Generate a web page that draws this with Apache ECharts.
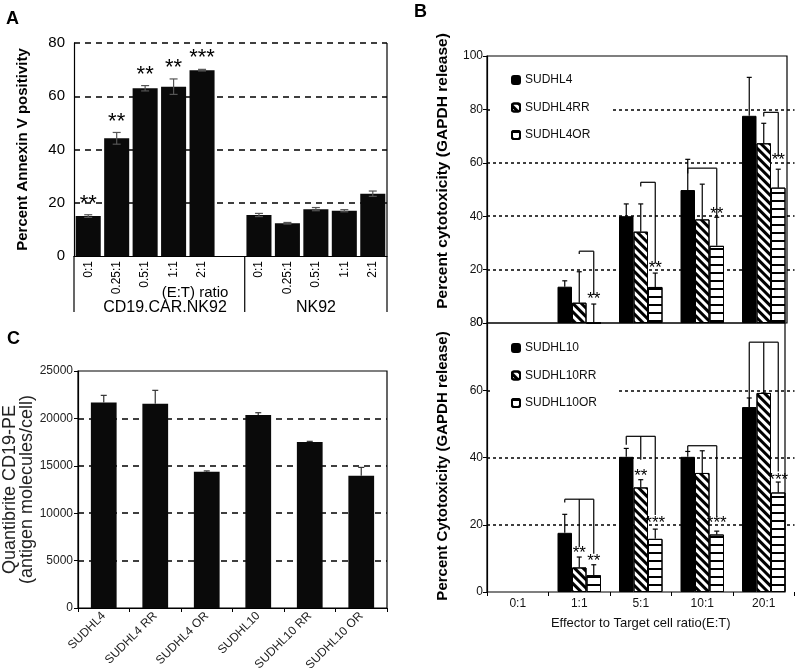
<!DOCTYPE html>
<html>
<head>
<meta charset="utf-8">
<script src="https://cdn.jsdelivr.net/npm/echarts@6/dist/echarts.min.js"></script>
<style>
  html, body { margin: 0; background: #fff; }
  #chart { width: 800px; height: 668px; }
</style>
</head>
<body>
<div id="chart"></div>
<script>
// ---- Panel A: Annexin V ----
const ratiosA = ['0:1', '0.25:1', '0.5:1', '1:1', '2:1', '', '0:1', '0.25:1', '0.5:1', '1:1', '2:1']
const annexin = [15.0, 44.2, 63.0, 63.6, 69.8, null, 15.4, 12.3, 17.6, 17.0, 23.4]
const annexinErr = [0.5, 2.2, 1.0, 2.9, 0.3, null, 0.6, 0.3, 0.6, 0.4, 1.0]
const annexinSig = ['**', '**', '**', '**', '***', '', '', '', '', '', '']

// ---- Panel B: GAPDH release ----
const ratiosB = ['0:1', '1:1', '5:1', '10:1', '20:1']
const sudhl4 = [null, 13.6, 40.0, 49.8, 77.6]
const sudhl4Err = [null, 2.2, 4.6, 11.5, 14.4]
const sudhl4RR = [null, 7.6, 34.2, 38.8, 67.3]
const sudhl4RRErr = [null, 11.6, 10.4, 13.2, 7.5]
const sudhl4OR = [null, 0, 13.5, 28.9, 50.7]
const sudhl4ORErr = [null, 7.1, 5.2, 10.7, 6.9]

const sudhl10 = [null, 17.6, 40.2, 40.2, 55.0]
const sudhl10Err = [null, 5.5, 2.5, 1.6, 2.7]
const sudhl10RR = [null, 7.3, 31.1, 35.4, 59.2]
const sudhl10RRErr = [null, 3.1, 2.3, 6.6, 0]
const sudhl10OR = [null, 5.0, 15.8, 17.1, 29.6]
const sudhl10ORErr = [null, 3.1, 2.9, 1.0, 3.1]

// significance brackets: [category, top, bar, legEnd, bar, legEnd, bar, legEnd] (bar -1 = none)
const bracketsB4 = [
  [1, 26.9, 1, 25.8, 2, 10.5, -1, 0],
  [2, 52.7, 1, 51.1, 2, 22.4, -1, 0],
  [3, 58.0, 0, 56.0, 2, 39.9, -1, 0],
  [4, 78.9, 1, 77.3, 2, 62.3, -1, 0]
]
const bracketsB10 = [
  [1, 27.6, 0, 26.6, 1, 13.4, 2, 11.4],
  [2, 46.3, 0, 43.8, 1, 39.3, 2, 22.9],
  [3, 43.5, 0, 41.8, 2, 22.4, -1, 0],
  [4, 74.3, 0, 55.0, 1, 59.2, 2, 35.8]
]
// stars: [category, bar, height]
const starsB4 = [[1, 2, 10.0], [2, 2, 21.8], [3, 2, 42.1], [4, 2, 62.3]]
const starsB4Text = ['**', '**', '**', '**']
const starsB10 = [[1, 1, 12.4], [1, 2, 10.0], [2, 1, 35.3], [2, 2, 21.4], [3, 2, 21.4], [4, 2, 34.3]]
const starsB10Text = ['**', '**', '**', '***', '***', '***']

// ---- Panel C: CD19 antigen density ----
const cellLines = ['SUDHL4', 'SUDHL4 RR', 'SUDHL4 OR', 'SUDHL10', 'SUDHL10 RR', 'SUDHL10 OR']
const cd19 = [21690, 21550, 14360, 20350, 17500, 13940]
const cd19Err = [740, 1410, 100, 250, 80, 890]

const FONT = '"Liberation Sans", Arial, sans-serif'
const BW = 14.5 // bar width in panel B

const gA = { left: 74, top: 43, width: 313, height: 213 }
const gB1 = { left: 487, top: 56, width: 307.5, height: 267 }
const gB2 = { left: 487, top: 323, width: 307.5, height: 269 }
const gC = { left: 78, top: 371, width: 309, height: 237 }

const solid = { color: '#000', borderColor: '#000', borderWidth: 1 }
const diag = {
  color: '#fff', borderColor: '#000', borderWidth: 1,
  decal: { symbol: 'rect', symbolSize: 1, color: '#000', dashArrayX: [1, 0], dashArrayY: [2.5, 2.5], rotation: Math.PI / 4 }
}
const horiz = {
  color: '#fff', borderColor: '#000', borderWidth: 1,
  decal: { symbol: 'rect', symbolSize: 1, color: '#000', dashArrayX: [1, 0], dashArrayY: [2, 5.5], rotation: 0 }
}

function errData(vals, errs) {
  const out = []
  vals.forEach((v, i) => { if (v != null && errs[i] != null) out.push([i, v, errs[i]]) })
  return out
}

function errorBars(offset, cap, color, both) {
  return function (params, api) {
    const cat = api.value(0), val = api.value(1), err = api.value(2)
    const x = api.coord([cat, val])[0] + offset
    const yTop = api.coord([cat, val + err])[1]
    const yBot = api.coord([cat, both ? val - err : val])[1]
    const style = { stroke: color, lineWidth: 1.2 }
    const kids = [
      { type: 'line', shape: { x1: x, y1: yBot, x2: x, y2: yTop }, style },
      { type: 'line', shape: { x1: x - cap / 2, y1: yTop, x2: x + cap / 2, y2: yTop }, style }
    ]
    if (both) kids.push({ type: 'line', shape: { x1: x - cap / 2, y1: yBot, x2: x + cap / 2, y2: yBot }, style })
    return { type: 'group', children: kids }
  }
}

function bracketItem(params, api) {
  const cat = api.value(0)
  const yTop = api.coord([cat, api.value(1)])[1]
  const cx = api.coord([cat, 0])[0]
  const legs = []
  for (let k = 2; k < 8; k += 2) {
    const b = api.value(k)
    if (b >= 0) legs.push([cx + (b - 1) * BW, api.coord([cat, api.value(k + 1)])[1]])
  }
  const style = { stroke: '#000', lineWidth: 1.2 }
  const xs = legs.map(l => l[0])
  const kids = [{ type: 'line', shape: { x1: Math.min(...xs), y1: yTop, x2: Math.max(...xs), y2: yTop }, style }]
  legs.forEach(l => kids.push({ type: 'line', shape: { x1: l[0], y1: yTop, x2: l[0], y2: l[1] }, style }))
  return { type: 'group', children: kids }
}

function starItem(texts, size) {
  return function (params, api) {
    const cat = api.value(0), b = api.value(1)
    const p = api.coord([cat, api.value(2)])
    return {
      type: 'text',
      style: {
        text: texts[params.dataIndex], x: p[0] + (b - 1) * BW, y: p[1] + size * 0.2,
        font: size + 'px ' + FONT, fill: '#000',
        align: 'center', verticalAlign: 'middle', textAlign: 'center', textVerticalAlign: 'middle'
      }
    }
  }
}

function starA(params, api) {
  const i = api.value(0)
  const p = api.coord([i, api.value(1) + api.value(2)])
  return {
    type: 'text',
    style: {
      text: annexinSig[i], x: p[0], y: p[1] - 11,
      font: '22px ' + FONT, fill: '#000',
      align: 'center', verticalAlign: 'middle', textAlign: 'center', textVerticalAlign: 'middle'
    }
  }
}

const chart = echarts.init(document.getElementById('chart'))

const catAxisB = (grid, showLabels) => ({
  type: 'category', gridIndex: grid, data: ratiosB,
  axisLine: { show: false },
  axisTick: { show: showLabels, length: 4, lineStyle: { color: '#000' } },
  axisLabel: { show: showLabels, fontSize: 12, color: '#111', margin: 6 },
  name: showLabels ? 'Effector to Target cell ratio(E:T)' : '',
  nameLocation: 'middle', nameGap: 25,
  nameTextStyle: { fontSize: 13, color: '#111' }
})
const valAxisB = (grid, max) => ({
  type: 'value', gridIndex: grid, min: 0, max: max, interval: 20,
  axisLine: { show: true, lineStyle: { color: '#000', width: 1.2 } },
  axisTick: { show: true, length: 4, lineStyle: { color: '#000' } },
  axisLabel: { fontSize: 12, color: '#111', margin: 4 },
  splitLine: { show: true, showMaxLine: false, showMinLine: false, lineStyle: { type: [3, 3], color: '#000', width: 1.5 } }
})

const option = {
  animation: false,
  textStyle: { fontFamily: FONT },
  grid: [
    Object.assign({ outerBoundsMode: 'none' }, gA),
    Object.assign({ outerBoundsMode: 'none' }, gB1),
    Object.assign({ outerBoundsMode: 'none' }, gB2),
    Object.assign({ outerBoundsMode: 'none', show: true, borderColor: '#000', borderWidth: 1.2 }, gC)
  ],
  legend: [
    {
      data: ['SUDHL4', 'SUDHL4RR', 'SUDHL4OR'], orient: 'vertical', left: 492, top: 68,
      itemWidth: 8, itemHeight: 8, itemGap: 15.5, selectedMode: false,
      backgroundColor: '#fff', padding: [6, 22, 6, 19],
      textStyle: { fontSize: 12, color: '#111', lineHeight: 12 }
    },
    {
      data: ['SUDHL10', 'SUDHL10RR', 'SUDHL10OR'], orient: 'vertical', left: 492, top: 336,
      itemWidth: 8, itemHeight: 8, itemGap: 15.5, selectedMode: false,
      backgroundColor: '#fff', padding: [6, 22, 6, 19],
      textStyle: { fontSize: 12, color: '#111', lineHeight: 12 }
    }
  ],
  xAxis: [
    {
      type: 'category', gridIndex: 0, data: ratiosA,
      axisLine: { lineStyle: { color: '#000', width: 1.2 } },
      axisTick: { show: false },
      axisLabel: { rotate: 90, interval: 0, fontSize: 12, color: '#000', margin: 5 }
    },
    catAxisB(1, false),
    catAxisB(2, true),
    {
      type: 'category', gridIndex: 3, data: cellLines,
      axisLine: { lineStyle: { color: '#000', width: 1.2 } },
      axisTick: { show: true, length: 4, lineStyle: { color: '#000' } },
      axisLabel: { rotate: 45, interval: 0, fontSize: 12, color: '#222', margin: 6 }
    }
  ],
  yAxis: [
    {
      type: 'value', gridIndex: 0, min: 0, max: 80, interval: 20,
      axisLine: { show: true, lineStyle: { color: '#000', width: 1.2 } },
      axisTick: { show: false },
      axisLabel: { fontSize: 15, color: '#000', margin: 9 },
      splitLine: { show: true, showMinLine: false, lineStyle: { type: [6, 5], color: '#000', width: 1.5 } },
      name: 'Percent Annexin V positivity', nameLocation: 'middle', nameGap: 44,
      nameTextStyle: { fontSize: 15, fontWeight: 'bold', color: '#000' }
    },
    valAxisB(1, 100),
    valAxisB(2, 80),
    {
      type: 'value', gridIndex: 3, min: 0, max: 25000, interval: 5000,
      axisLine: { show: true, lineStyle: { color: '#000', width: 1.2 } },
      axisTick: { show: true, length: 4, lineStyle: { color: '#000' } },
      axisLabel: { fontSize: 12, color: '#222', margin: 5, formatter: v => String(v) },
      splitLine: { show: true, showMinLine: false, showMaxLine: false, lineStyle: { type: [6, 5], color: '#000', width: 1.5 } },
      name: 'Quantibrite CD19-PE\n(antigen molecules/cell)', nameLocation: 'middle', nameGap: 37,
      nameTextStyle: { fontSize: 18, lineHeight: 17, color: '#222' }
    }
  ],
  series: [
    // A
    { type: 'bar', xAxisIndex: 0, yAxisIndex: 0, data: annexin, barCategoryGap: '12%', itemStyle: { color: '#0a0a0a' } },
    { type: 'custom', xAxisIndex: 0, yAxisIndex: 0, z: 3, data: errData(annexin, annexinErr), renderItem: errorBars(0, 8, '#555', true) },
    { type: 'custom', xAxisIndex: 0, yAxisIndex: 0, z: 3, data: errData(annexin, annexinErr).filter(d => annexinSig[d[0]]), renderItem: starA },
    // B top
    { name: 'SUDHL4', type: 'bar', xAxisIndex: 1, yAxisIndex: 1, data: sudhl4, barWidth: BW, barGap: '0%', itemStyle: solid },
    { name: 'SUDHL4RR', type: 'bar', xAxisIndex: 1, yAxisIndex: 1, data: sudhl4RR, barWidth: BW, barGap: '0%', itemStyle: diag },
    { name: 'SUDHL4OR', type: 'bar', xAxisIndex: 1, yAxisIndex: 1, data: sudhl4OR, barWidth: BW, barGap: '0%', itemStyle: horiz },
    { type: 'custom', xAxisIndex: 1, yAxisIndex: 1, z: 3, data: errData(sudhl4, sudhl4Err), renderItem: errorBars(-BW, 5, '#000', false) },
    { type: 'custom', xAxisIndex: 1, yAxisIndex: 1, z: 3, data: errData(sudhl4RR, sudhl4RRErr), renderItem: errorBars(0, 5, '#000', false) },
    { type: 'custom', xAxisIndex: 1, yAxisIndex: 1, z: 3, data: errData(sudhl4OR, sudhl4ORErr), renderItem: errorBars(BW, 5, '#000', false) },
    { type: 'custom', xAxisIndex: 1, yAxisIndex: 1, z: 3, data: bracketsB4, renderItem: bracketItem },
    { type: 'custom', xAxisIndex: 1, yAxisIndex: 1, z: 4, data: starsB4, renderItem: starItem(starsB4Text, 17) },
    // B bottom
    { name: 'SUDHL10', type: 'bar', xAxisIndex: 2, yAxisIndex: 2, data: sudhl10, barWidth: BW, barGap: '0%', itemStyle: solid },
    { name: 'SUDHL10RR', type: 'bar', xAxisIndex: 2, yAxisIndex: 2, data: sudhl10RR, barWidth: BW, barGap: '0%', itemStyle: diag },
    { name: 'SUDHL10OR', type: 'bar', xAxisIndex: 2, yAxisIndex: 2, data: sudhl10OR, barWidth: BW, barGap: '0%', itemStyle: horiz },
    { type: 'custom', xAxisIndex: 2, yAxisIndex: 2, z: 3, data: errData(sudhl10, sudhl10Err), renderItem: errorBars(-BW, 5, '#000', false) },
    { type: 'custom', xAxisIndex: 2, yAxisIndex: 2, z: 3, data: errData(sudhl10RR, sudhl10RRErr), renderItem: errorBars(0, 5, '#000', false) },
    { type: 'custom', xAxisIndex: 2, yAxisIndex: 2, z: 3, data: errData(sudhl10OR, sudhl10ORErr), renderItem: errorBars(BW, 5, '#000', false) },
    { type: 'custom', xAxisIndex: 2, yAxisIndex: 2, z: 3, data: bracketsB10, renderItem: bracketItem },
    { type: 'custom', xAxisIndex: 2, yAxisIndex: 2, z: 4, data: starsB10, renderItem: starItem(starsB10Text, 17) },
    // C
    { type: 'bar', xAxisIndex: 3, yAxisIndex: 3, data: cd19, barWidth: '50%', itemStyle: { color: '#0a0a0a' } },
    { type: 'custom', xAxisIndex: 3, yAxisIndex: 3, z: 3, data: errData(cd19, cd19Err), renderItem: errorBars(0, 6, '#333', false) }
  ],
  graphic: [
    // panel letters
    { type: 'text', x: 6, y: 10, style: { text: 'A', font: 'bold 18px ' + FONT, fill: '#000' } },
    { type: 'text', x: 414, y: 3, style: { text: 'B', font: 'bold 18px ' + FONT, fill: '#000' } },
    { type: 'text', x: 7, y: 330, style: { text: 'C', font: 'bold 18px ' + FONT, fill: '#000' } },
    // panel A frame and group separators
    { type: 'line', z: 10, shape: { x1: gA.left + gA.width, y1: gA.top, x2: gA.left + gA.width, y2: 312 }, style: { stroke: '#000', lineWidth: 1.2 } },
    { type: 'line', z: 10, shape: { x1: gA.left, y1: gA.top + gA.height, x2: gA.left, y2: 312 }, style: { stroke: '#000', lineWidth: 1.2 } },
    { type: 'line', z: 10, shape: { x1: gA.left + gA.width * 6 / 11, y1: gA.top + gA.height, x2: gA.left + gA.width * 6 / 11, y2: 312 }, style: { stroke: '#000', lineWidth: 1.2 } },
    { type: 'text', x: 195, y: 293, style: { text: '(E:T) ratio', font: '15px ' + FONT, fill: '#000', align: 'center', verticalAlign: 'middle' } },
    { type: 'text', x: 165, y: 308, style: { text: 'CD19.CAR.NK92', font: '16px ' + FONT, fill: '#000', align: 'center', verticalAlign: 'middle' } },
    { type: 'text', x: 316, y: 308, style: { text: 'NK92', font: '16px ' + FONT, fill: '#000', align: 'center', verticalAlign: 'middle' } },
    // panel B frames and titles
    { type: 'rect', z: 10, shape: { x: gB1.left, y: gB1.top, width: 300, height: gB1.height }, style: { fill: 'none', stroke: '#000', lineWidth: 1.2 } },
    { type: 'rect', z: 10, shape: { x: gB2.left, y: gB2.top, width: 298, height: gB2.height }, style: { fill: 'none', stroke: '#000', lineWidth: 1.2 } },
    { type: 'text', x: 443, y: 171, rotation: Math.PI / 2, style: { text: 'Percent cytotoxicity (GAPDH release)', font: 'bold 15.5px ' + FONT, fill: '#000', align: 'center', verticalAlign: 'middle' } },
    { type: 'text', x: 443, y: 466, rotation: Math.PI / 2, style: { text: 'Percent Cytotoxicity (GAPDH release)', font: 'bold 15px ' + FONT, fill: '#000', align: 'center', verticalAlign: 'middle' } }
  ]
}

chart.setOption(option)
</script>
</body>
</html>
